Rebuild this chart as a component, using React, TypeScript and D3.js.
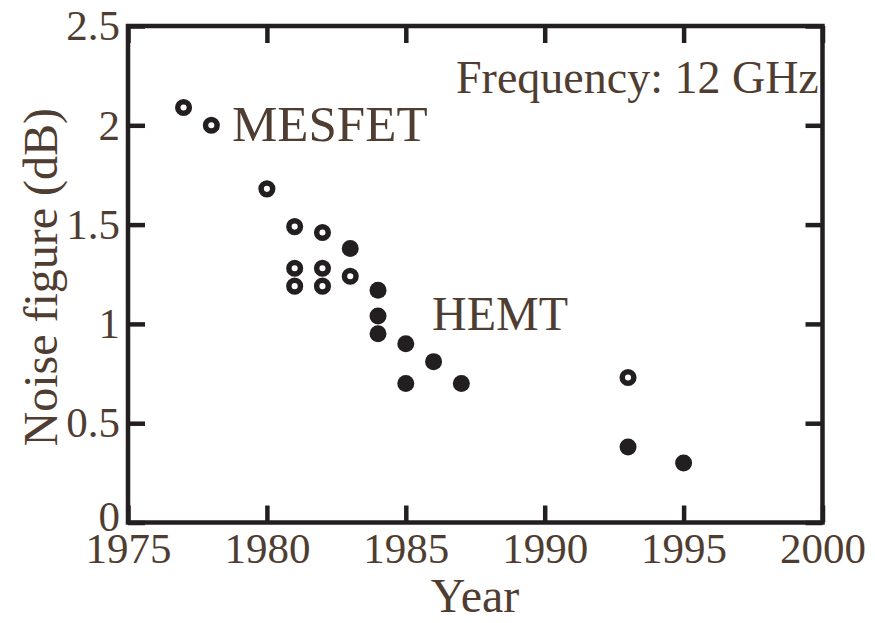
import React, { useEffect, useRef } from 'react';
import * as d3 from 'd3';

const width = 875;
const height = 623;
const left = 128, right = 822.5, top = 26, bottom = 522.5;

const ink = '#231f20';
const textColor = '#4f3d31';
const font = '"Liberation Serif", "Times New Roman", serif';

// MESFET (open) and HEMT (filled) noise figures
const mesfetYears = [1977, 1978, 1980, 1981, 1982, 1981, 1981, 1982, 1982, 1983, 1993];
const mesfetNF = [2.09, 2.0, 1.68, 1.49, 1.46, 1.28, 1.19, 1.28, 1.19, 1.24, 0.73];
const hemtYears = [1983, 1984, 1984, 1984, 1985, 1986, 1985, 1987, 1993, 1995];
const hemtNF = [1.38, 1.17, 1.04, 0.95, 0.9, 0.81, 0.7, 0.7, 0.38, 0.3];

const xTicks = [1975, 1980, 1985, 1990, 1995, 2000];
const yTicks = [0, 0.5, 1, 1.5, 2, 2.5];
const yTickLabels = ['0', '0.5', '1', '1.5', '2', '2.5'];

export default function App() {
  const ref = useRef<SVGSVGElement>(null);

  useEffect(() => {
    document.body.style.margin = '0';
    const svg = d3.select(ref.current);
    svg.selectAll('*').remove();

    const x = d3.scaleLinear().domain([1975, 2000]).range([left, right]);
    const y = d3.scaleLinear().domain([0, 2.5]).range([bottom, top]);

    const styleAxis = (g: any) => {
      g.select('.domain').remove();
      g.selectAll('line').attr('stroke', ink).attr('stroke-width', 4.5);
      g.selectAll('text')
        .attr('fill', textColor)
        .style('font-family', font)
        .style('font-size', '43px');
    };

    // bottom axis
    svg.append('g')
      .attr('transform', `translate(0,${bottom})`)
      .call(d3.axisBottom(x).tickValues(xTicks).tickFormat(d3.format('d')).tickSize(-17).tickSizeOuter(0).tickPadding(10))
      .call(styleAxis);

    // left axis
    const yAxis = svg.append('g')
      .attr('transform', `translate(${left},0)`)
      .call(d3.axisLeft(y).tickValues(yTicks).tickFormat((d, i) => yTickLabels[i]).tickSize(-17).tickSizeOuter(0).tickPadding(8))
      .call(styleAxis);
    // the zero label sits a little higher in the original
    yAxis.selectAll('.tick text').filter((d: any) => d === 0).attr('dy', '0.18em');

    // top and right mirror ticks
    svg.append('g')
      .attr('transform', `translate(0,${top})`)
      .call(d3.axisTop(x).tickValues(xTicks).tickFormat(() => '').tickSize(-17).tickSizeOuter(0))
      .call(styleAxis);
    svg.append('g')
      .attr('transform', `translate(${right},0)`)
      .call(d3.axisRight(y).tickValues(yTicks).tickFormat(() => '').tickSize(-17).tickSizeOuter(0))
      .call(styleAxis);

    // frame
    svg.append('rect')
      .attr('x', left).attr('y', top)
      .attr('width', right - left).attr('height', bottom - top)
      .attr('fill', 'none').attr('stroke', ink).attr('stroke-width', 4.5);

    // points
    svg.append('g').selectAll('circle')
      .data(mesfetYears)
      .join('circle')
      .attr('cx', d => x(d))
      .attr('cy', (d, i) => y(mesfetNF[i]))
      .attr('r', 5.8)
      .attr('fill', 'white')
      .attr('stroke', ink)
      .attr('stroke-width', 5.5);

    svg.append('g').selectAll('circle')
      .data(hemtYears)
      .join('circle')
      .attr('cx', d => x(d))
      .attr('cy', (d, i) => y(hemtNF[i]))
      .attr('r', 8.5)
      .attr('fill', ink);

    const label = (tx: number, ty: number, s: string, size: number, anchor = 'start') =>
      svg.append('text')
        .attr('x', tx).attr('y', ty)
        .attr('text-anchor', anchor)
        .attr('fill', textColor)
        .style('font-family', font)
        .style('font-size', size + 'px')
        .text(s);

    label(232, 141, 'MESFET', 51);
    label(432, 330, 'HEMT', 48);
    label(456, 93, 'Frequency: 12 GHz', 46);
    label(475, 612, 'Year', 48, 'middle');

    svg.append('text')
      .attr('transform', `translate(57,${(top + bottom) / 2 + 3}) rotate(-90)`)
      .attr('text-anchor', 'middle')
      .attr('fill', textColor)
      .style('font-family', font)
      .style('font-size', '48px')
      .text('Noise figure (dB)');
  }, []);

  return <svg ref={ref} width={width} height={height} style={{ display: 'block', background: 'white' }} />;
}
